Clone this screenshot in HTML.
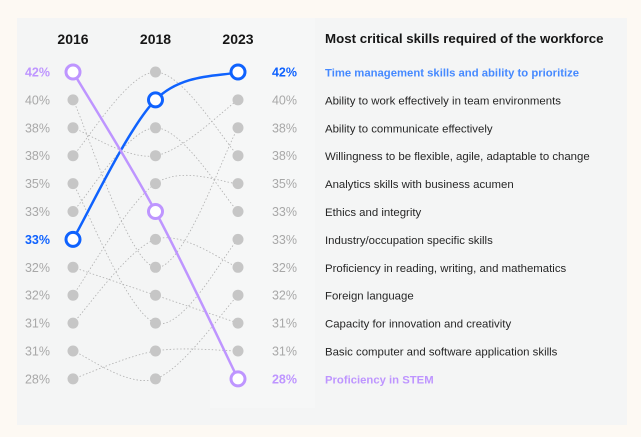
<!DOCTYPE html>
<html><head><meta charset="utf-8"><style>
html,body{margin:0;padding:0;background:#fdf9f3;}
body{width:641px;height:437px;overflow:hidden;font-family:"Liberation Sans",sans-serif;}
</style></head><body>
<svg id="chart" width="641" height="437" xmlns="http://www.w3.org/2000/svg" style="position:absolute;left:0;top:0">
<rect x="17" y="18" width="610" height="407" fill="#f4f5f5"/>
<rect x="210" y="18" width="105" height="390" fill="#f6f7f7"/>
<g id="lines"></g><g id="marks"></g><g id="labels"></g>
</svg>
<script>
const years = ['2016','2018','2023'];
const pctLabels = ['42%','40%','38%','38%','35%','33%','33%','32%','32%','31%','31%','28%'];
const skills = ['Time management skills and ability to prioritize','Ability to work effectively in team environments','Ability to communicate effectively','Willingness to be flexible, agile, adaptable to change','Analytics skills with business acumen','Ethics and integrity','Industry/occupation specific skills','Proficiency in reading, writing, and mathematics','Foreign language','Capacity for innovation and creativity','Basic computer and software application skills','Proficiency in STEM'];
const rank2016 = [6,2,1,3,8,5,4,9,10,7,11,0];
const rank2018 = [1,3,7,0,4,2,9,6,11,8,10,5];
const rank2023 = [0,1,2,3,4,5,6,7,8,9,10,11];
const highlight = {0:'#0f62fe',11:'#be95ff'};

const NS='http://www.w3.org/2000/svg';
const xCol = i => 73 + i*82.5;
const yRow = r => 72 + r*27.9;
function mk(tag,attrs,parent){const e=document.createElementNS(NS,tag);for(const k in attrs)e.setAttribute(k,attrs[k]);parent.appendChild(e);return e;}
const gL=document.getElementById('lines'),gM=document.getElementById('marks'),gT=document.getElementById('labels');
function path(pts){
  const p=[pts[0],...pts,pts[pts.length-1]];let d=`M${pts[0][0]},${pts[0][1]}`;
  for(let i=1;i<p.length-2;i++){const p0=p[i-1],p1=p[i],p2=p[i+1],p3=p[i+2];
    d+=` C${p1[0]+(p2[0]-p0[0])/6},${p1[1]+(p2[1]-p0[1])/6} ${p2[0]-(p3[0]-p1[0])/6},${p2[1]-(p3[1]-p1[1])/6} ${p2[0]},${p2[1]}`;}
  return d;}
const order=skills.map((s,i)=>i).sort((a,b)=>(a in highlight)-(b in highlight));
order.forEach(i=>{
  const pts=[[xCol(0),yRow(rank2016[i])],[xCol(1),yRow(rank2018[i])],[xCol(2),yRow(rank2023[i])]];
  const c=highlight[i];
  const el=mk('path',{d:path(pts),fill:'none',stroke:c||'#b0b0b0','stroke-width':c?2.5:0.8,'stroke-dasharray':c?'none':'1.5 2'},c?gM:gL);
  
  
});
for(let col=0;col<3;col++){for(let r=0;r<12;r++){
  const d=mk('circle',{cx:xCol(col),cy:yRow(r),r:5.5,fill:'#c6c6c6'},gL);
  
  
}}
Object.keys(highlight).forEach(k=>{const i=+k;const ranks=[rank2016[i],rank2018[i],rank2023[i]];
  ranks.forEach((r,col)=>{const c=mk('circle',{cx:xCol(col),cy:yRow(r),r:7,fill:'#fff',stroke:highlight[i],'stroke-width':3},gM);
  
  });});
years.forEach((y,col)=>{const t=mk('text',{x:xCol(col),y:44,'text-anchor':'middle','font-size':14,'font-weight':'bold',fill:'#161616'},gT);t.textContent=y;
  
  });
function hiAt(ranks,r){for(const k in highlight){if(ranks[k]===r)return highlight[k];}return null;}
pctLabels.forEach((p,r)=>{
  const cl=hiAt(rank2016,r);
  const a=mk('text',{x:50,y:yRow(r)+4.5,'text-anchor':'end','font-size':12.5,'font-weight':cl?'bold':'normal',fill:cl||'#a8a8a8'},gT);a.textContent=p;
  
  
  const cr=hiAt(rank2023,r);
  const b=mk('text',{x:297,y:yRow(r)+4.5,'text-anchor':'end','font-size':12.5,'font-weight':cr?'bold':'normal',fill:cr||'#a8a8a8'},gT);b.textContent=p;
  
  
});
const h=mk('text',{x:325,y:43,'font-size':13.3,'font-weight':'bold',fill:'#161616'},gT);h.textContent='Most critical skills required of the workforce';


skills.forEach((s,i)=>{const c=highlight[i];
  const t=mk('text',{x:325,y:yRow(rank2023[i])+4.5,'font-size':c?11.3:11.4,'font-weight':c?'bold':'normal',fill:c?(i===0?'#4589ff':c):'#262626'},gT);t.textContent=s;
  
  });
</script>
</body></html>
